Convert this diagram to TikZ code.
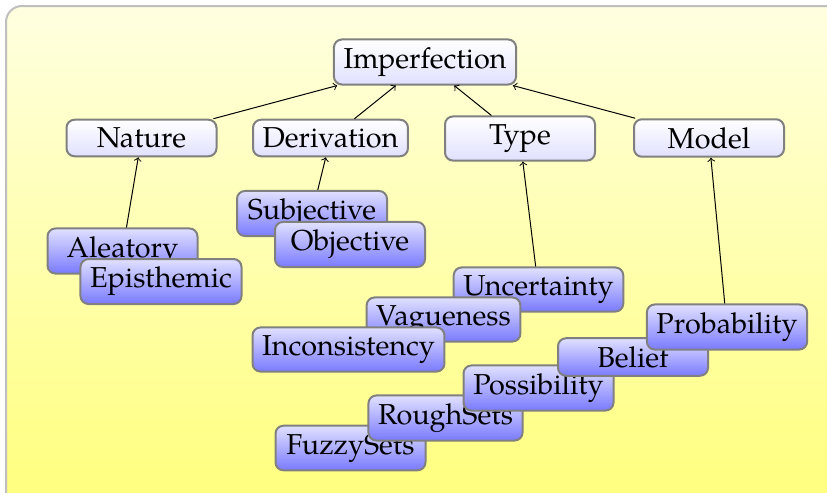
\documentclass[tikz,border=0pt]{standalone}
\usepackage{fontspec}
\setmainfont{TeX Gyre Pagella}
\begin{document}
\begin{tikzpicture}[x=0.5pt,y=-0.5pt,
  every node/.style={font=\fontsize{14.4}{17}\selectfont},
  basebox/.style={draw=black!50, line width=1pt, rounded corners=4pt,
    minimum width=75pt, inner xsep=4.8pt, inner ysep=4pt},
  headbox/.style={basebox, top color=white, bottom color=blue!12},
  leafbox/.style={basebox, top color=blue!12, bottom color=blue!52},
  link/.style={->, line width=0.5pt}]
  \useasboundingbox (0,0) rectangle (827,493);
  % backdrop panel
  \begin{scope}
    \clip (0,0) rectangle (827,493);
    \shade[top color=yellow!12, bottom color=yellow!52, draw=black!25,
      line width=1pt, rounded corners=8pt] (6,6) rectangle (860,520);
  \end{scope}

  % root and categories
  \node[headbox] (imp) at (425,62) {Imperfection};
  \node[headbox] (nat) at (141.5,138) {Nature};
  \node[headbox] (der) at (330.5,138) {Derivation};
  \node[headbox] (typ) at (520,138.5) {Type};
  \node[headbox] (mod) at (709,138) {Model};

  % nature
  \node[leafbox] (ale) at (122.5,251) {Aleatory};
  \node[leafbox] (epi) at (161,281.5) {Episthemic};
  % derivation
  \node[leafbox] (sub) at (312,213.5) {Subjective};
  \node[leafbox] (obj) at (350,244.5) {Objective};
  % type
  \node[leafbox] (unc) at (538.5,289.5) {Uncertainty};
  \node[leafbox] (vag) at (443.5,319.5) {Vagueness};
  \node[leafbox] (inc) at (348.5,349.5) {Inconsistency};
  % model (upper boxes lie over lower ones)
  \node[leafbox] (fuz) at (350.5,448) {FuzzySets};
  \node[leafbox] (rou) at (445.5,418) {RoughSets};
  \node[leafbox] (pos) at (538.5,388) {Possibility};
  \node[leafbox] (bel) at (633,357) {Belief};
  \node[leafbox] (pro) at (727,327) {Probability};

  % connectors
  \draw[link] (nat) -- (imp);
  \draw[link] (der) -- (imp);
  \draw[link] (typ) -- (imp);
  \draw[link] (mod) -- (imp);
  \draw[link] (ale) -- (nat);
  \draw[link] (sub) -- (der);
  \draw[link] (unc) -- (typ);
  \draw[link] (pro) -- (mod);
\end{tikzpicture}
\end{document}
